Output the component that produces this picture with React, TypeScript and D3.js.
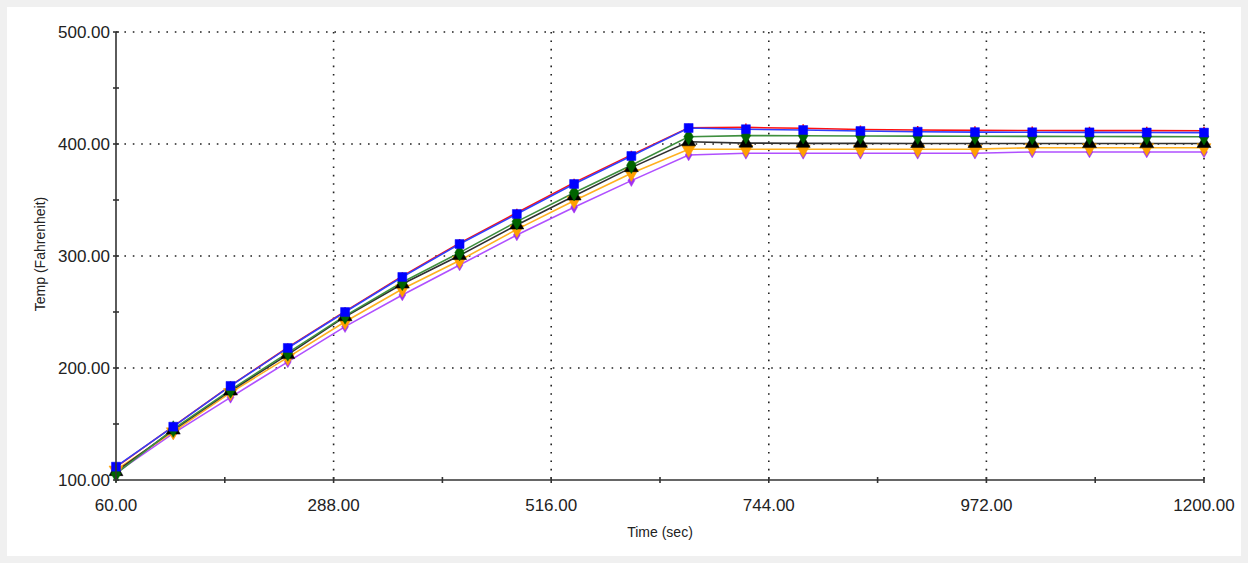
import { useRef, useEffect } from 'react';
import * as d3 from 'd3';

// sample times (sec)
const times = [60, 120, 180, 240, 300, 360, 420, 480, 540, 600, 660, 720, 780, 840, 900, 960, 1020, 1080, 1140, 1200];

const redTemps = [111.5, 147.8, 184.3, 218.3, 250.5, 282.0, 311.5, 338.6, 365.5, 390.3, 414.5, 414.8, 414.0, 413.0, 412.5, 412.2, 412.0, 411.9, 411.9, 411.8];
const blueTemps = [111.9, 147.6, 184.0, 217.9, 250.0, 281.3, 310.7, 337.5, 364.3, 389.3, 414.3, 413.2, 412.5, 411.6, 411.0, 410.6, 410.5, 410.4, 410.3, 410.2];
const greenTemps = [105.5, 145.5, 180.5, 213.5, 246.5, 276.5, 303.0, 330.7, 356.5, 381.0, 406.5, 407.5, 407.4, 407.2, 407.0, 406.9, 406.8, 406.7, 406.6, 406.5];
const blackTemps = [107.5, 144.6, 179.5, 212.0, 245.8, 275.0, 300.5, 327.7, 353.6, 378.9, 402.0, 400.8, 400.6, 400.6, 400.5, 400.5, 400.4, 400.4, 400.4, 400.5];
const orangeTemps = [108.9, 143.0, 178.0, 209.5, 241.3, 270.5, 296.0, 323.8, 349.4, 373.8, 395.3, 395.3, 395.3, 395.3, 395.3, 395.4, 396.7, 396.7, 396.7, 396.7];
const purpleTemps = [106.5, 141.7, 173.8, 205.5, 236.9, 265.2, 292.0, 318.8, 343.5, 367.3, 390.2, 391.7, 391.7, 391.7, 391.7, 391.8, 392.9, 392.9, 392.9, 392.9];

const xMajor = [60, 288, 516, 744, 972, 1200];
const xMinor = [174, 402, 630, 858, 1086];
const yMajor = [100, 200, 300, 400, 500];
const yMinor = [150, 250, 350, 450];

const series = [
  { name: 'purple', values: purpleTemps, line: '#b050ff', mark: '#a030f0', shape: 'diamondSmall' },
  { name: 'orange', values: orangeTemps, line: '#ffb020', mark: '#ffa000', shape: 'triDown' },
  { name: 'black', values: blackTemps, line: '#303030', mark: '#000000', shape: 'triUp' },
  { name: 'green', values: greenTemps, line: '#3f8f3f', mark: '#006400', shape: 'diamond' },
  { name: 'red', values: redTemps, line: '#ff1010', mark: '#ff0000', shape: 'plus' },
  { name: 'blue', values: blueTemps, line: '#3040ff', mark: '#0000ff', shape: 'square' },
];

const App = () => {
  const svgRef = useRef(null);

  useEffect(() => {
    const width = 1248;
    const height = 563;
    const svg = d3.select(svgRef.current).attr('width', width).attr('height', height);
    svg.selectAll('*').remove();

    const x = d3.scaleLinear().domain([60, 1200]).range([116, 1204]);
    const y = d3.scaleLinear().domain([100, 500]).range([480, 32]);
    const fmt = d3.format('.2f');
    const font = 'Arial, "Liberation Sans", sans-serif';

    svg.append('rect').attr('width', width).attr('height', height).attr('fill', '#f0f0f0');
    svg.append('rect').attr('x', 7).attr('y', 7).attr('width', 1234).attr('height', 549).attr('fill', '#fff');

    // dotted grid
    const grid = svg.append('g').attr('stroke', '#222').attr('stroke-width', 1.6).attr('stroke-dasharray', '1.6 6.8');
    grid.selectAll('.gx').data(xMajor.slice(1)).join('line')
      .attr('x1', d => x(d)).attr('x2', d => x(d)).attr('y1', y(500)).attr('y2', y(100));
    grid.selectAll('.gy').data(yMajor.slice(1)).join('line')
      .attr('x1', x(60)).attr('x2', x(1200)).attr('y1', d => y(d)).attr('y2', d => y(d));

    // lines
    const lineGen = d3.line<number>().x((_, i) => x(times[i])).y(d => y(d));
    series.forEach(s => {
      svg.append('path').attr('d', lineGen(s.values)).attr('fill', 'none')
        .attr('stroke', s.line).attr('stroke-width', 1.6);
    });

    // markers
    const shapes = {
      square: d3.symbol(d3.symbolSquare, 80)(),
      diamond: d3.symbol(d3.symbolDiamond, 80)(),
      diamondSmall: d3.symbol(d3.symbolDiamond, 40)(),
      triUp: d3.symbol(d3.symbolTriangle, 85)(),
      triDown: d3.symbol(d3.symbolTriangle, 85)(),
    };
    series.forEach(s => {
      const g = svg.append('g');
      g.selectAll('path').data(s.values).join('path')
        .attr('transform', (d, i) => `translate(${x(times[i])},${y(d)})${s.shape === 'triDown' ? ' rotate(180)' : ''}`)
        .attr('d', s.shape === 'plus' ? 'M-3,0H3M0,-4V4' : shapes[s.shape])
        .attr('fill', s.mark)
        .attr('stroke', s.mark)
        .attr('stroke-width', s.shape === 'plus' ? 1.5 : 0.5);
    });

    // axes
    const axis = svg.append('g').attr('stroke', '#333').attr('stroke-width', 1.6);
    axis.append('line').attr('x1', x(60)).attr('x2', x(1200)).attr('y1', y(100)).attr('y2', y(100));
    axis.append('line').attr('x1', x(60)).attr('x2', x(60)).attr('y1', y(100)).attr('y2', y(500));
    axis.selectAll('.tx').data([...xMajor, ...xMinor]).join('line')
      .attr('x1', d => x(d)).attr('x2', d => x(d)).attr('y1', y(100) - 3).attr('y2', y(100) + 3);
    axis.selectAll('.ty').data([...yMajor, ...yMinor]).join('line')
      .attr('y1', d => y(d)).attr('y2', d => y(d)).attr('x1', x(60) - 3).attr('x2', x(60) + 3);

    svg.append('g').selectAll('text').data(xMajor).join('text')
      .attr('x', d => x(d)).attr('y', 511).attr('text-anchor', 'middle')
      .attr('font-family', font).attr('font-size', 17).attr('fill', '#222')
      .text(d => fmt(d));
    svg.append('g').selectAll('text').data(yMajor).join('text')
      .attr('x', 110).attr('y', d => y(d) + 6).attr('text-anchor', 'end')
      .attr('font-family', font).attr('font-size', 17).attr('fill', '#222')
      .text(d => fmt(d));

    svg.append('text').attr('x', 660).attr('y', 537).attr('text-anchor', 'middle')
      .attr('font-family', font).attr('font-size', 14).attr('fill', '#222').text('Time (sec)');
    svg.append('text').attr('transform', 'translate(45,254) rotate(-90)').attr('text-anchor', 'middle')
      .attr('font-family', font).attr('font-size', 14).attr('fill', '#222').text('Temp (Fahrenheit)');

    return () => { svg.selectAll('*').remove(); };
  }, []);

  return <svg ref={svgRef} style={{ position: 'absolute', left: 0, top: 0 }} />;
};

export default App;
